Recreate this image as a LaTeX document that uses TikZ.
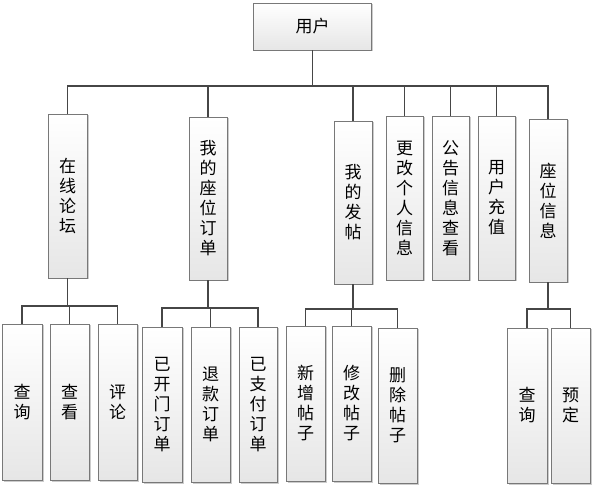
\documentclass[tikz,border=0pt]{standalone}
\usepackage{fontspec}
\newfontfamily\cjk{Noto Sans CJK SC}
\usepackage{tikz}
\usetikzlibrary{shadows}
\definecolor{boxedge}{RGB}{120,120,120}
\definecolor{boxfill}{RGB}{230,230,230}
\definecolor{linkgray}{RGB}{70,70,70}

\tikzset{
  box/.style={draw=boxedge,line width=0.9pt,top color=white,bottom color=boxfill,
    inner sep=0pt,align=center,font=\cjk\fontsize{17}{20}\selectfont,
    drop shadow={shadow xshift=1.5pt,shadow yshift=-1.5pt,fill=black,opacity=0.2}},
  link/.style={draw=linkgray,line width=1.4pt}
}

\begin{document}
\begin{tikzpicture}[x=1pt,y=-1pt]
  \useasboundingbox (0,0) rectangle (595,489);

  \node[box,minimum width=118,minimum height=47] (root) at (312.5,26.5) {用户};

  \node[box,minimum width=39,minimum height=164] (forum)  at (67.5,196)  {在\\线\\论\\坛};
  \node[box,minimum width=38,minimum height=163] (order)  at (208,198.5)  {我\\的\\座\\位\\订\\单};
  \node[box,minimum width=38,minimum height=163] (post)   at (353,202.5)  {我\\的\\发\\帖};
  \node[box,minimum width=37,minimum height=164] (info)   at (404.5,198)  {更\\改\\个\\人\\信\\息};
  \node[box,minimum width=37,minimum height=164] (notice) at (450.5,198)  {公\\告\\信\\息\\查\\看};
  \node[box,minimum width=37,minimum height=164] (charge) at (496.5,198)  {用\\户\\充\\值};
  \node[box,minimum width=38,minimum height=163] (seat)   at (548,200.5)  {座\\位\\信\\息};

  \node[box,minimum width=40,minimum height=156] (fquery)   at (22,402)    {查\\询};
  \node[box,minimum width=39,minimum height=156] (fview)    at (69.5,402)  {查\\看};
  \node[box,minimum width=39,minimum height=156] (fcomment) at (117.5,402) {评\\论};

  \node[box,minimum width=40,minimum height=155] (oopen)   at (162,404.5)   {已\\开\\门\\订\\单};
  \node[box,minimum width=39,minimum height=155] (orefund) at (210.5,404.5) {退\\款\\订\\单};
  \node[box,minimum width=38,minimum height=155] (opaid)   at (258,404.5)   {已\\支\\付\\订\\单};

  \node[box,minimum width=39,minimum height=155] (padd)  at (305.5,403.5) {新\\增\\帖\\子};
  \node[box,minimum width=39,minimum height=155] (pedit) at (351.5,403.5) {修\\改\\帖\\子};
  \node[box,minimum width=39,minimum height=155] (pdel)  at (397.5,405.5) {删\\除\\帖\\子};

  \node[box,minimum width=40,minimum height=155] (squery) at (527,405.5)  {查\\询};
  \node[box,minimum width=39,minimum height=155] (sbook)  at (570.5,405.5) {预\\定};

  \coordinate (bus0) at (0,86);
  \coordinate (bus1) at (0,306);
  \coordinate (bus2) at (0,308);
  \coordinate (bus3) at (0,309);

  \begin{scope}[on background layer/.try]
    \foreach \c in {forum,order,post,info,notice,charge,seat}
      \draw[link] (root.south) |- (\c.north |- bus0) -- (\c.north);
    \foreach \c in {fquery,fview,fcomment}
      \draw[link] (forum.south) |- (\c.north |- bus1) -- (\c.north);
    \foreach \c in {oopen,orefund,opaid}
      \draw[link] (order.south) |- (\c.north |- bus2) -- (\c.north);
    \foreach \c in {padd,pedit,pdel}
      \draw[link] (post.south) |- (\c.north |- bus3) -- (\c.north);
    \foreach \c in {squery,sbook}
      \draw[link] (seat.south) |- (\c.north |- bus3) -- (\c.north);
  \end{scope}
\end{tikzpicture}
\end{document}
